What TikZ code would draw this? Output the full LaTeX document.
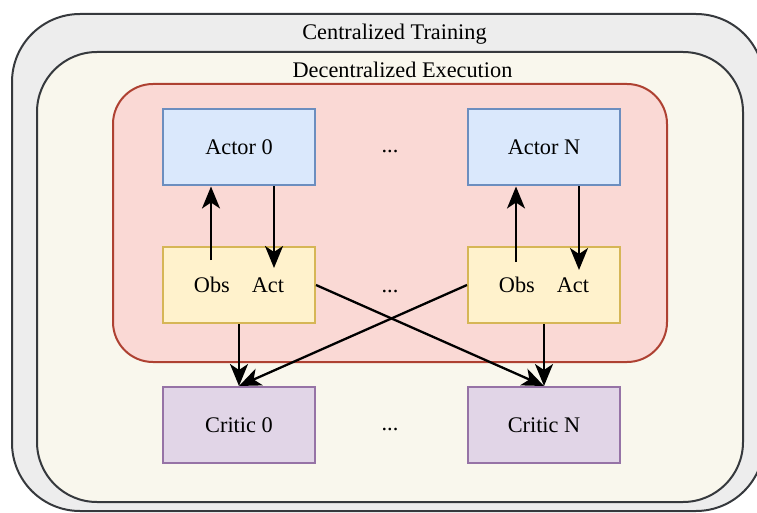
\documentclass[tikz,border=0pt]{standalone}
\usepackage{fontspec}
\setmainfont{Liberation Serif}
\usetikzlibrary{arrows.meta}

\definecolor{trainFill}{HTML}{EDEDED}
\definecolor{frameLine}{HTML}{36393D}
\definecolor{execFill}{HTML}{F9F7ED}
\definecolor{agentFill}{HTML}{FAD9D5}
\definecolor{agentLine}{HTML}{AE4132}
\definecolor{actorFill}{HTML}{DAE8FC}
\definecolor{actorLine}{HTML}{6C8EBF}
\definecolor{ioFill}{HTML}{FFF2CC}
\definecolor{ioLine}{HTML}{D6B656}
\definecolor{criticFill}{HTML}{E1D5E7}
\definecolor{criticLine}{HTML}{9673A6}

\begin{document}
\begin{tikzpicture}[x=1pt,y=-1pt,
  every node/.style={font=\fontsize{22.3}{26}\selectfont, inner sep=0pt},
  frame/.style={draw=frameLine, line width=2pt},
  trainbox/.style={frame, fill=trainFill, rounded corners=68pt,
    minimum width=752pt, minimum height=497pt},
  execbox/.style={frame, fill=execFill, rounded corners=60pt,
    minimum width=706pt, minimum height=450pt},
  agentbox/.style={draw=agentLine, fill=agentFill, line width=2pt,
    rounded corners=40pt, minimum width=554pt, minimum height=278pt},
  unit/.style={line width=2pt, minimum width=152pt, minimum height=76pt},
  actorbox/.style={unit, draw=actorLine, fill=actorFill},
  iobox/.style={unit, draw=ioLine, fill=ioFill},
  criticbox/.style={unit, draw=criticLine, fill=criticFill},
  flow/.style={line width=2.3pt, draw=black,
    -{Stealth[length=22pt, width=18pt, inset=6pt]}}
]
\useasboundingbox (0,0) rectangle (757,513);
\clip (0,0) rectangle (757,513);

% nested containers
\node[trainbox] (train) at (388,262.5) {};
\node[anchor=base] (trainTitle) at (394.5,40) {Centralized Training};
\node[execbox] (exec) at (390,277) {};
\node[anchor=base] (execTitle) at (402.5,78) {Decentralized Execution};
\node[agentbox] (agents) at (390,223) {};

% actors
\node[actorbox] (a0) at (239,147.5) {Actor 0};
\node[actorbox] (aN) at (544,147.5) {Actor N};
\node (dotsA) at (390,151) {...};

% observation / action blocks
\node[iobox] (oa0) at (239,285) {Obs\hspace{22pt}Act};
\node[iobox] (oaN) at (544,285) {Obs\hspace{22pt}Act};
\node (dotsB) at (390,291) {...};

% critics
\node[criticbox] (cr0) at (239,425) {Critic 0};
\node[criticbox] (crN) at (544,425) {Critic N};
\node (dotsC) at (390,429) {...};

% arrow ends inside the obs/act blocks
\coordinate (o0) at (211,260);
\coordinate (c0) at (274,268);
\coordinate (oN) at (516,262);
\coordinate (cN) at (579,270);

% actor <-> obs/act
\draw[flow] (o0) -- (a0.south -| o0);
\draw[flow] (a0.south -| c0) -- (c0);
\draw[flow] (oN) -- (aN.south -| oN);
\draw[flow] (aN.south -| cN) -- (cN);

% obs/act -> critics
\draw[flow] (oa0.south) -- (cr0.north);
\draw[flow] (oaN.south) -- (crN.north);
\draw[flow] (oa0.east) -- (crN.north);
\draw[flow] (oaN.west) -- (cr0.north);
\end{tikzpicture}
\end{document}
